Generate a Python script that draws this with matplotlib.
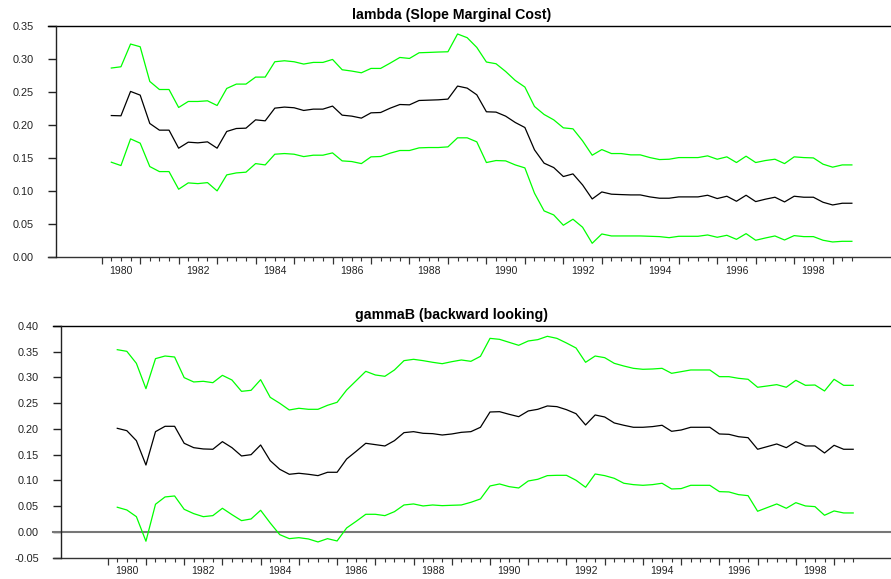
import matplotlib
matplotlib.use("Agg")
import matplotlib.pyplot as plt

plt.rcParams['font.family'] = ['Liberation Sans', 'DejaVu Sans']

# quarterly dates 1980Q1 .. 1999Q2, plotted at end of quarter
dates = [y + q / 4 for y in range(1980, 2000) for q in range(1, 5)][:78]

lam_mid = [0.2145, 0.2141, 0.2510, 0.2454, 0.2025, 0.1924, 0.1924, 0.1651, 0.1742, 0.1732,
           0.1747, 0.1651, 0.1904, 0.1949, 0.1954, 0.2080, 0.2065, 0.2257, 0.2273, 0.2263,
           0.2222, 0.2242, 0.2242, 0.2288, 0.2151, 0.2136, 0.2106, 0.2186, 0.2191, 0.2257,
           0.2312, 0.2307, 0.2373, 0.2378, 0.2383, 0.2394, 0.2591, 0.2560, 0.2459, 0.2202,
           0.2197, 0.2136, 0.2040, 0.1964, 0.1626, 0.1424, 0.1358, 0.1222, 0.1262, 0.1095,
           0.0883, 0.0989, 0.0955, 0.0949, 0.0944, 0.0944, 0.0914, 0.0894, 0.0894, 0.0914,
           0.0914, 0.0914, 0.0939, 0.0889, 0.0924, 0.0848, 0.0939, 0.0843, 0.0879, 0.0909,
           0.0838, 0.0924, 0.0909, 0.0909, 0.0833, 0.0792, 0.0818, 0.0818]
lam_hi = [0.2864, 0.2883, 0.3227, 0.3186, 0.2661, 0.2539, 0.2539, 0.2267, 0.2358, 0.2358,
          0.2368, 0.2297, 0.2555, 0.2621, 0.2621, 0.2727, 0.2727, 0.2959, 0.2974, 0.2959,
          0.2924, 0.2949, 0.2949, 0.2994, 0.2838, 0.2818, 0.2792, 0.2858, 0.2858, 0.2939,
          0.3024, 0.3009, 0.3095, 0.3100, 0.3106, 0.3110, 0.3379, 0.3323, 0.3176, 0.2955,
          0.2929, 0.2812, 0.2676, 0.2576, 0.2282, 0.2161, 0.2080, 0.1959, 0.1944, 0.1762,
          0.1545, 0.1630, 0.1570, 0.1570, 0.1550, 0.1550, 0.1509, 0.1479, 0.1484, 0.1509,
          0.1509, 0.1509, 0.1535, 0.1484, 0.1520, 0.1434, 0.1530, 0.1434, 0.1464, 0.1484,
          0.1418, 0.1520, 0.1509, 0.1504, 0.1409, 0.1364, 0.1398, 0.1398]
lam_lo = [0.1439, 0.1388, 0.1792, 0.1727, 0.1373, 0.1297, 0.1297, 0.1030, 0.1126, 0.1115,
          0.1130, 0.1005, 0.1247, 0.1277, 0.1288, 0.1418, 0.1398, 0.1560, 0.1570, 0.1560,
          0.1524, 0.1545, 0.1545, 0.1580, 0.1459, 0.1449, 0.1418, 0.1520, 0.1525, 0.1576,
          0.1616, 0.1616, 0.1656, 0.1661, 0.1661, 0.1671, 0.1808, 0.1808, 0.1747, 0.1434,
          0.1464, 0.1459, 0.1398, 0.1353, 0.0970, 0.0702, 0.0641, 0.0485, 0.0576, 0.0455,
          0.0212, 0.0353, 0.0323, 0.0323, 0.0323, 0.0323, 0.0318, 0.0313, 0.0297, 0.0318,
          0.0318, 0.0318, 0.0338, 0.0303, 0.0333, 0.0272, 0.0358, 0.0258, 0.0292, 0.0323,
          0.0262, 0.0328, 0.0313, 0.0313, 0.0258, 0.0232, 0.0242, 0.0242]

gam_mid = [0.2013, 0.1967, 0.1773, 0.1300, 0.1948, 0.2052, 0.2052, 0.1722, 0.1637, 0.1612,
           0.1606, 0.1754, 0.1637, 0.1476, 0.1501, 0.1689, 0.1385, 0.1217, 0.1120, 0.1140,
           0.1120, 0.1094, 0.1159, 0.1159, 0.1417, 0.1567, 0.1722, 0.1696, 0.1670, 0.1773,
           0.1929, 0.1948, 0.1916, 0.1909, 0.1883, 0.1903, 0.1935, 0.1948, 0.2033, 0.2330,
           0.2336, 0.2285, 0.2239, 0.2350, 0.2382, 0.2447, 0.2434, 0.2375, 0.2297, 0.2078,
           0.2272, 0.2233, 0.2117, 0.2072, 0.2033, 0.2033, 0.2046, 0.2072, 0.1955, 0.1980,
           0.2033, 0.2033, 0.2033, 0.1903, 0.1896, 0.1850, 0.1831, 0.1606, 0.1657, 0.1709,
           0.1637, 0.1754, 0.1670, 0.1670, 0.1534, 0.1683, 0.1606, 0.1606]
gam_hi = [0.3540, 0.3508, 0.3275, 0.2783, 0.3366, 0.3417, 0.3398, 0.2997, 0.2913, 0.2926,
          0.2899, 0.3042, 0.2951, 0.2731, 0.2751, 0.2957, 0.2615, 0.2499, 0.2369, 0.2402,
          0.2382, 0.2382, 0.2460, 0.2518, 0.2757, 0.2938, 0.3120, 0.3049, 0.3023, 0.3146,
          0.3327, 0.3353, 0.3327, 0.3295, 0.3268, 0.3307, 0.3340, 0.3314, 0.3411, 0.3760,
          0.3741, 0.3683, 0.3625, 0.3709, 0.3735, 0.3800, 0.3760, 0.3670, 0.3573, 0.3295,
          0.3417, 0.3385, 0.3275, 0.3223, 0.3178, 0.3159, 0.3165, 0.3178, 0.3081, 0.3113,
          0.3146, 0.3146, 0.3146, 0.3016, 0.3016, 0.2984, 0.2965, 0.2810, 0.2835, 0.2861,
          0.2810, 0.2945, 0.2848, 0.2854, 0.2738, 0.2965, 0.2848, 0.2848]
gam_lo = [0.0480, 0.0427, 0.0297, -0.0180, 0.0538, 0.0680, 0.0699, 0.0440, 0.0356, 0.0297,
          0.0317, 0.0460, 0.0336, 0.0220, 0.0252, 0.0421, 0.0175, -0.0052, -0.0130, -0.0111,
          -0.0136, -0.0194, -0.0130, -0.0175, 0.0078, 0.0207, 0.0343, 0.0343, 0.0317, 0.0394,
          0.0524, 0.0544, 0.0505, 0.0524, 0.0511, 0.0518, 0.0524, 0.0576, 0.0641, 0.0893,
          0.0932, 0.0880, 0.0854, 0.0990, 0.1023, 0.1094, 0.1100, 0.1100, 0.1004, 0.0868,
          0.1126, 0.1094, 0.1042, 0.0946, 0.0919, 0.0906, 0.0919, 0.0946, 0.0835, 0.0842,
          0.0906, 0.0906, 0.0906, 0.0783, 0.0777, 0.0725, 0.0705, 0.0402, 0.0473, 0.0544,
          0.0460, 0.0569, 0.0505, 0.0492, 0.0324, 0.0408, 0.0369, 0.0369]

titles = ['lambda (Slope Marginal Cost)', 'gammaB (backward looking)']
year_labels = [str(y) for y in range(1980, 2000, 2)]
years = list(range(1980, 2000))
quarters = [y + q / 4 for y in range(1980, 2000) for q in (1, 2, 3)][:-1]

W, H = 891, 579
fig = plt.figure(figsize=(W / 100, H / 100), dpi=100)

GREEN = '#00ff00'


def panel(box, xlim, ylim, yticks, mid, hi, lo, title, title_y, zero=False):
    left, top, right, bottom = box
    ax = fig.add_axes([left / W, 1 - bottom / H, (right - left) / W, (bottom - top) / H])
    ax.set_xlim(*xlim)
    ax.set_ylim(*ylim)
    for s in ('top', 'bottom', 'right'):
        ax.spines[s].set_visible(False)
    ax.spines['left'].set_linewidth(1.0)
    ax.spines['left'].set_color('#222222')

    tick_frac = 8.5 / (right - left)
    tr = ax.get_yaxis_transform()
    # top and bottom frame lines, running left under the tick marks
    ax.plot([-tick_frac, 1], [ylim[1], ylim[1]], color='black', lw=1.0,
            transform=tr, clip_on=False)
    ax.plot([-tick_frac, 1], [ylim[0], ylim[0]], color='#333333', lw=1.0,
            transform=tr, clip_on=False)
    if zero:
        ax.plot([-tick_frac, 1], [0, 0], color='#777777', lw=1.5,
                transform=tr, clip_on=False)

    ax.plot(dates, hi, color=GREEN, lw=0.9)
    ax.plot(dates, lo, color=GREEN, lw=0.9)
    ax.plot(dates, mid, color='black', lw=0.9)

    ax.set_yticks(yticks)
    ax.set_yticklabels(['%.2f' % v for v in yticks])
    ax.tick_params(axis='y', direction='out', length=6, width=1.0,
                   pad=10, labelsize=7.8, color='#222222', labelcolor='#222222')

    # year and quarter ticks hanging below the bottom line
    ax.set_xticks(years)
    ax.set_xticks(quarters, minor=True)
    ax.tick_params(axis='x', which='major', direction='out', length=5,
                   width=0.9, labelbottom=False, color='#333333')
    ax.tick_params(axis='x', which='minor', direction='out', length=2.8,
                   width=0.8, color='#333333')

    sec = ax.secondary_xaxis('bottom')
    sec.spines['bottom'].set_visible(False)
    sec.set_xticks([int(s) + 0.5 for s in year_labels])
    sec.set_xticklabels(year_labels)
    sec.tick_params(axis='x', length=0, pad=6, labelsize=7.5, labelcolor='#222222')

    fig.text(451.5 / W, 1 - title_y / H, title, ha='center', va='baseline',
             fontsize=10.2, fontweight='bold')
    return ax


panel((56, 26, 891, 257.3), (1978.812, 2000.517), (0.0, 0.35),
      [0.00, 0.05, 0.10, 0.15, 0.20, 0.25, 0.30, 0.35],
      lam_mid, lam_hi, lam_lo, titles[0], 19.3)
panel((61.3, 326, 891, 557.7), (1978.786, 2000.489), (-0.05, 0.40),
      [-0.05, 0.00, 0.05, 0.10, 0.15, 0.20, 0.25, 0.30, 0.35, 0.40],
      gam_mid, gam_hi, gam_lo, titles[1], 319.3, zero=True)

fig.savefig('out.png', dpi=100)
